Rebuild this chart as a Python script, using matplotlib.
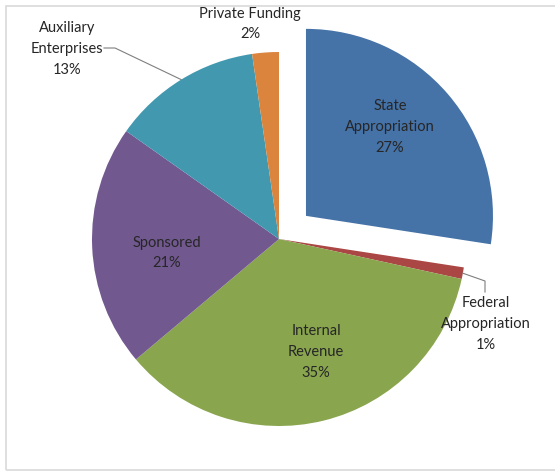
import matplotlib
matplotlib.use("Agg")
import matplotlib.pyplot as plt
import numpy as np
from matplotlib.patches import Rectangle

categories = ["State\nAppropriation", "Federal\nAppropriation", "Internal\nRevenue",
              "Sponsored", "Auxiliary\nEnterprises", "Private Funding"]
values = [27.4, 1.0, 35.4, 20.9, 12.9, 2.3]
colors = ["#4572A7", "#AA4643", "#89A54E", "#71588F", "#4198AF", "#DB843D"]
explode = [0.19, 0, 0, 0, 0, 0]

W, H = 555, 472
CX, CY, R = 279, 239, 187

def px(x, y):
    return ((x - CX) / R, (CY - y) / R)

fig = plt.figure(figsize=(W / 100, H / 100), dpi=100)
ax = fig.add_axes([0, 0, 1, 1])
wedges, _ = ax.pie(values, colors=colors, explode=explode, startangle=90,
                   counterclock=False, radius=1,
                   wedgeprops=dict(linewidth=0))
ax.set_xlim(-CX / R, (W - CX) / R)
ax.set_ylim(-(H - CY) / R, CY / R)
ax.set_aspect('auto')
ax.axis('off')

total = sum(values)
pct = [f"{v / total * 100:.0f}%" for v in values]

label_pos = [(390, 127), (486, 324), (316, 352), (167, 253), (67, 49), (250, 24)]
font = dict(family=["Lato", "DejaVu Sans"], fontsize=10.5, color="#262626")
for cat, p, (x, y) in zip(categories, pct, label_pos):
    ax.text(*px(x, y), f"{cat}\n{p}", ha="center", va="center",
            linespacing=1.62, **font)

# leader lines
def edge_point(w, rscale=1.0):
    ang = np.deg2rad((w.theta1 + w.theta2) / 2)
    cx, cy = w.center
    return (cx + w.r * rscale * np.cos(ang), cy + w.r * rscale * np.sin(ang))

lc = "#7f7f7f"
aux = edge_point(wedges[4])
p1 = px(115, 48); p0 = px(104, 48)
ax.plot([p0[0], p1[0], aux[0]], [p0[1], p1[1], aux[1]], color=lc, lw=0.8)
fed = edge_point(wedges[1])
q1 = px(485, 281); q2 = px(485, 292)
ax.plot([fed[0], q1[0], q2[0]], [fed[1], q1[1], q2[1]], color=lc, lw=0.8)

# frame
fig.patches.append(Rectangle((6 / W, 2 / H), 1.2, (470 - 6) / H, transform=fig.transFigure,
                             fill=False, edgecolor="#D9D9D9", lw=1.2))

fig.savefig("out.png", dpi=100)
